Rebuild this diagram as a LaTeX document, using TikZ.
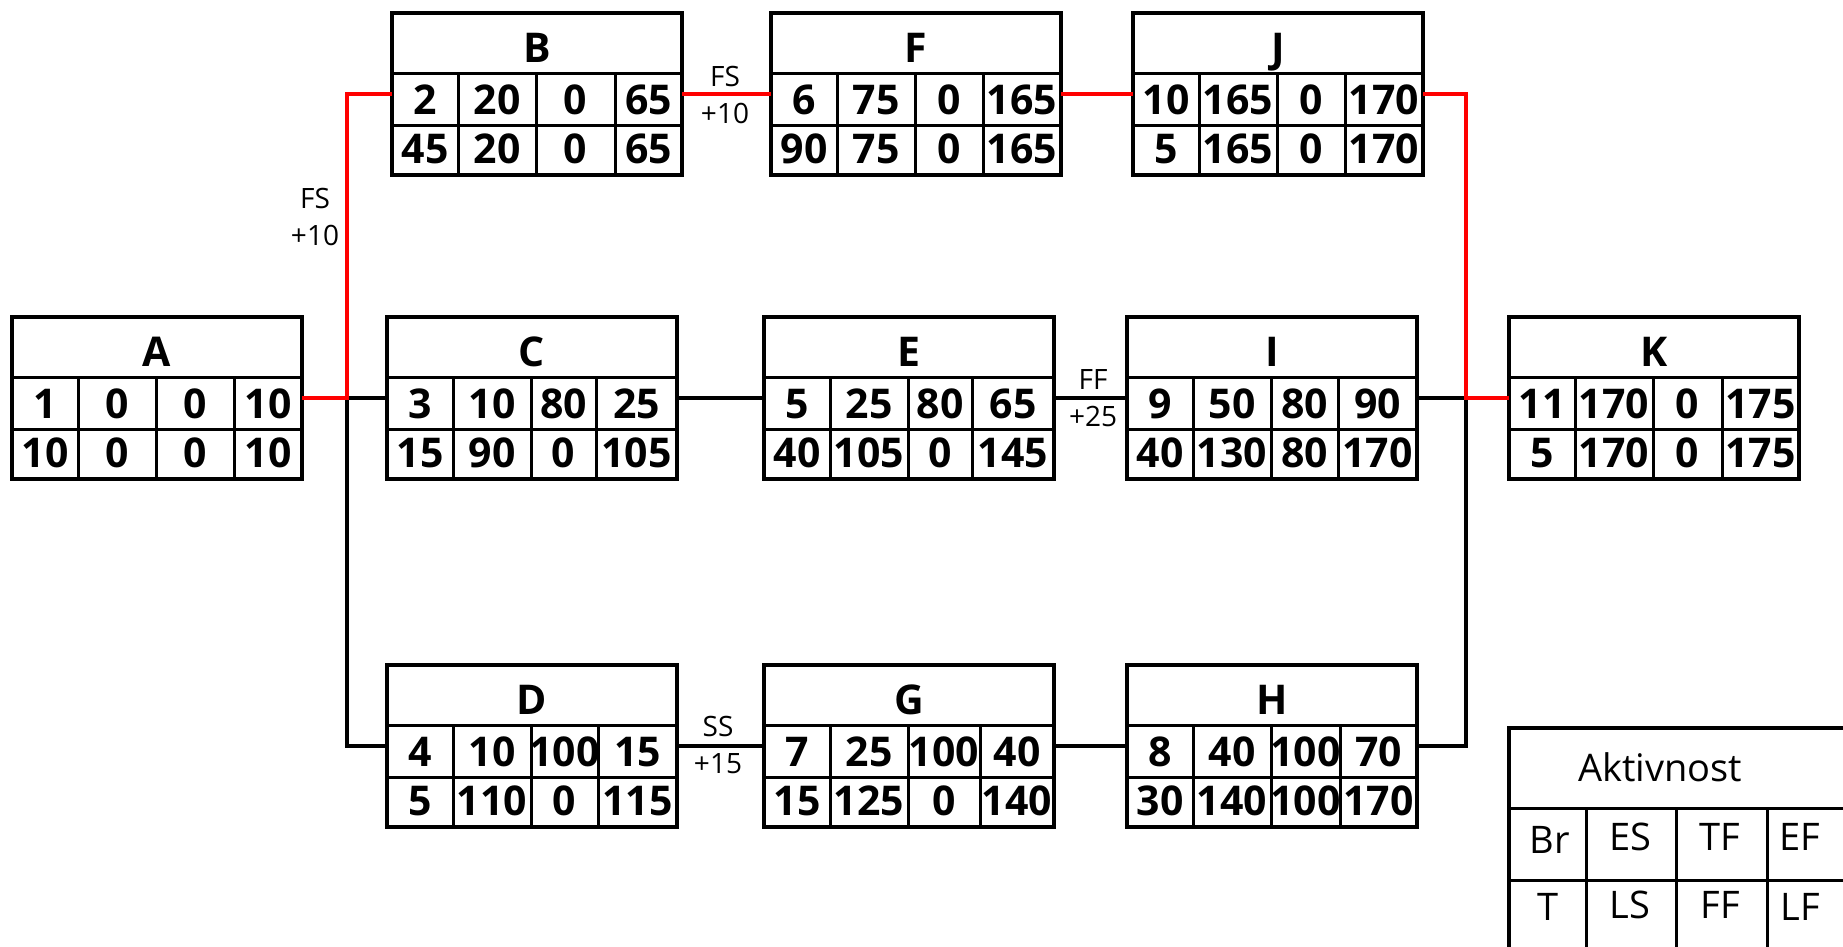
\documentclass[tikz,border=0pt]{standalone}
\usepackage{fontspec}
\setmainfont{Open Sans}
\usetikzlibrary{positioning}

\begin{document}
\begin{tikzpicture}[x=1pt,y=-1pt,
  actbox/.style={draw,line width=4pt,minimum width=290pt,minimum height=162pt,inner sep=0pt,outer sep=0pt,anchor=north west},
  cell/.style={line width=3pt},
  num/.style={font=\fontsize{41}{44}\selectfont\bfseries,inner sep=0pt,text height=29pt,text depth=0pt},
  lag/.style={font=\fontsize{28}{37}\selectfont,align=center,inner sep=0pt},
  legtxt/.style={font=\fontsize{38}{40}\selectfont,inner sep=0pt,text height=27pt,text depth=0pt},
  crit/.style={red,line width=3.5pt},
  link/.style={black,line width=3.5pt}]
\useasboundingbox (0,0) rectangle (1843,946);
\clip (0,0) rectangle (1843,946);

% activity boxes: name/x/y/letter/width of 3rd column/Br/ES/TF/EF/T/LS/FF/LF
\foreach \nm/\px/\py/\lt/\wc/\vBr/\vES/\vTF/\vEF/\vT/\vLS/\vFF/\vLF in {
  A/12/317/A/78/1/0/0/10/10/0/0/10,
  B/392/13/B/79/2/20/0/65/45/20/0/65,
  F/771/13/F/68/6/75/0/165/90/75/0/165,
  J/1133/13/J/68/10/165/0/170/5/165/0/170,
  C/387/317/C/65/3/10/80/25/15/90/0/105,
  E/764/317/E/64/5/25/80/65/40/105/0/145,
  I/1127/317/I/67/9/50/80/90/40/130/80/170,
  K/1509/317/K/69/11/170/0/175/5/170/0/175,
  D/387/665/D/67/4/10/100/15/5/110/0/115,
  G/764/665/G/72/7/25/100/40/15/125/0/140,
  H/1127/665/H/69/8/40/100/70/30/140/100/170}{
\node[actbox] (\nm) at (\px,\py) {};
\draw[cell] (\px,\py+60) -- ++(290,0)
  (\px,\py+112) -- ++(290,0)
  (\px+66,\py+60) -- ++(0,102)
  (\px+144,\py+60) -- ++(0,102)
  (\px+144+\wc,\py+60) -- ++(0,102);
\node[num] (\nm-name) at (\px+145,\py+35) {\lt};
\node[num] (\nm-br) at (\px+33,\py+87) {\vBr};
\node[num] (\nm-es) at (\px+105,\py+87) {\vES};
\node[num] (\nm-tf) at (\px+144+\wc/2,\py+87) {\vTF};
\node[num] (\nm-ef) at (\px+217+\wc/2,\py+87) {\vEF};
\node[num] (\nm-t) at (\px+33,\py+136) {\vT};
\node[num] (\nm-ls) at (\px+105,\py+136) {\vLS};
\node[num] (\nm-ff) at (\px+144+\wc/2,\py+136) {\vFF};
\node[num] (\nm-lf) at (\px+217+\wc/2,\py+136) {\vLF};
}

% junctions
\coordinate (jl) at (347,398);
\coordinate (jr) at (1466,398);

\draw[link] (jl) -- (C.west) (jl) |- (D.west);
\draw[link] (C.east) -- (E.west);
\draw[link] (E.east) -- (I.west);
\draw[link] (I.east) -- (jr) |- (H.east);
\draw[link] (D.east) -- (G.west);
\draw[link] (G.east) -- (H.west);
\draw[crit] (A.east) -- (jl) |- (B.west);
\draw[crit] (B.east) -- (F.west);
\draw[crit] (F.east) -- (J.west);
\draw[crit] (J.east) -| (jr) -- (K.west);

% lags
\node[lag] (lagAB) at (315,217) {FS\\+10};
\node[lag] (lagBF) at (725,95) {FS\\+10};
\node[lag] (lagEI) at (1093,398) {FF\\+25};
\node[lag] (lagDG) at (718,745) {SS\\+15};

% legend
\node[draw,line width=4pt,minimum width=336pt,minimum height=230pt,inner sep=0pt,outer sep=0pt,anchor=north west] (leg) at (1509,728) {};
\draw[cell] (1509,808) -- (1850,808) (1509,880) -- (1850,880)
  (1586,808) -- (1586,960) (1676,808) -- (1676,960) (1767,808) -- (1767,960);
\node[legtxt] (leg-name) at (1660,768) {Aktivnost};
\node[legtxt] (leg-br) at (1550,840) {Br};
\node[legtxt] (leg-es) at (1630,837) {ES};
\node[legtxt] (leg-tf) at (1720,837) {TF};
\node[legtxt] (leg-ef) at (1800,837) {EF};
\node[legtxt] (leg-t) at (1548,907) {T};
\node[legtxt] (leg-ls) at (1630,905) {LS};
\node[legtxt] (leg-ff) at (1720,905) {FF};
\node[legtxt] (leg-lf) at (1800,907) {LF};
\end{tikzpicture}
\end{document}
